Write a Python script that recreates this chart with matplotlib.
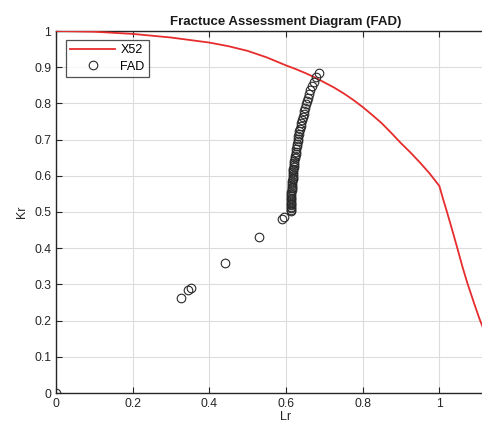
import matplotlib
matplotlib.use("Agg")
import matplotlib.pyplot as plt

plt.rcParams['font.family'] = ['Liberation Sans', 'DejaVu Sans']

# FAD curve (X52)
curve_lr = [0.0, 0.1, 0.2, 0.3, 0.4, 0.45, 0.5, 0.55, 0.6, 0.625, 0.65, 0.675, 0.7, 0.725,
            0.75, 0.775, 0.8, 0.825, 0.85, 0.875, 0.9, 0.925, 0.95, 0.975, 1.0,
            1.01, 1.02, 1.035, 1.047, 1.06, 1.073, 1.09, 1.104, 1.125]
curve_kr = [1.0, 0.998, 0.992, 0.982, 0.968, 0.958, 0.945, 0.927, 0.905, 0.895, 0.884, 0.872,
            0.858, 0.844, 0.828, 0.81, 0.79, 0.768, 0.745, 0.718, 0.69, 0.664, 0.636, 0.606,
            0.572, 0.535, 0.50, 0.445, 0.40, 0.35, 0.304, 0.25, 0.207, 0.15]

# Assessment points (FAD)
pts_lr = [0.0, 0.325, 0.345, 0.353, 0.44, 0.529, 0.59, 0.594,
          0.612, 0.612, 0.612, 0.613, 0.613, 0.613, 0.613, 0.613, 0.613, 0.614,
          0.614, 0.614, 0.614, 0.615, 0.615, 0.615, 0.616, 0.616, 0.616, 0.617,
          0.617, 0.617, 0.618, 0.618, 0.619, 0.619, 0.620, 0.621, 0.621, 0.622,
          0.623, 0.624, 0.625, 0.626, 0.627, 0.628, 0.629, 0.630, 0.631, 0.632,
          0.634, 0.635, 0.637, 0.638, 0.640, 0.642, 0.644, 0.646, 0.648, 0.650,
          0.652, 0.654, 0.657, 0.660, 0.663, 0.667, 0.673, 0.679, 0.686]
pts_kr = [0.0, 0.263, 0.285, 0.289, 0.358, 0.432, 0.48, 0.486,
          0.502, 0.506, 0.510, 0.514, 0.518, 0.522, 0.526, 0.530, 0.535, 0.540,
          0.545, 0.550, 0.555, 0.560, 0.565, 0.570, 0.575, 0.580, 0.585, 0.590,
          0.595, 0.600, 0.605, 0.610, 0.615, 0.620, 0.625, 0.630, 0.636, 0.642,
          0.648, 0.654, 0.660, 0.667, 0.674, 0.681, 0.688, 0.695, 0.702, 0.709,
          0.716, 0.723, 0.730, 0.738, 0.746, 0.754, 0.762, 0.770, 0.779, 0.788,
          0.797, 0.806, 0.816, 0.826, 0.837, 0.848, 0.860, 0.872, 0.884]

x_ticks = [0, 0.2, 0.4, 0.6, 0.8, 1]
x_tick_labels = ['0', '0.2', '0.4', '0.6', '0.8', '1']
y_ticks = [0, 0.1, 0.2, 0.3, 0.4, 0.5, 0.6, 0.7, 0.8, 0.9, 1]
y_tick_labels = ['0', '0.1', '0.2', '0.3', '0.4', '0.5', '0.6', '0.7', '0.8', '0.9', '1']

W, H = 482, 429
fig = plt.figure(figsize=(W / 100, H / 100), dpi=100)
ax = fig.add_axes([56 / W, 36 / H, 460 / W, 362 / H])

ax.plot(curve_lr, curve_kr, color='#e62c2c', lw=1.3, label='X52', zorder=3)
ax.plot(pts_lr, pts_kr, linestyle='none', marker='o', markersize=6.2,
        markerfacecolor='none', markeredgecolor='#2a2a2a', markeredgewidth=0.8,
        label='FAD', zorder=4)

ax.set_xlim(0, 1.2)
ax.set_ylim(0, 1)
ax.set_xticks(x_ticks)
ax.set_xticklabels(x_tick_labels)
ax.set_yticks(y_ticks)
ax.set_yticklabels(y_tick_labels)

ax.grid(True, color='#dcdcdc', lw=0.8)
ax.set_axisbelow(True)
for s in ['left', 'bottom', 'top', 'right']:
    ax.spines[s].set_color('#262626')
    ax.spines[s].set_linewidth(1.0)
ax.tick_params(direction='in', length=4, width=0.8, colors='#262626',
               labelsize=8.8, top=True, right=True, labelcolor='#262626')

ax.set_title('Fractuce Assessment Diagram (FAD)', fontsize=9.5, fontweight='bold',
             color='#1a1a1a', pad=4)
ax.set_xlabel('Lr', fontsize=9, color='#262626', labelpad=1)
ax.set_ylabel('Kr', fontsize=9, color='#262626', labelpad=4)

leg = ax.legend(loc='upper left', bbox_to_anchor=(10 / 460, 1 - 9 / 362),
                fontsize=9, frameon=True, fancybox=False, handlelength=3.6,
                borderpad=0.35, labelspacing=0.35, handletextpad=0.4,
                borderaxespad=0)
leg.get_frame().set_edgecolor('#262626')
leg.get_frame().set_linewidth(0.9)

fig.savefig('out.png', dpi=100)
